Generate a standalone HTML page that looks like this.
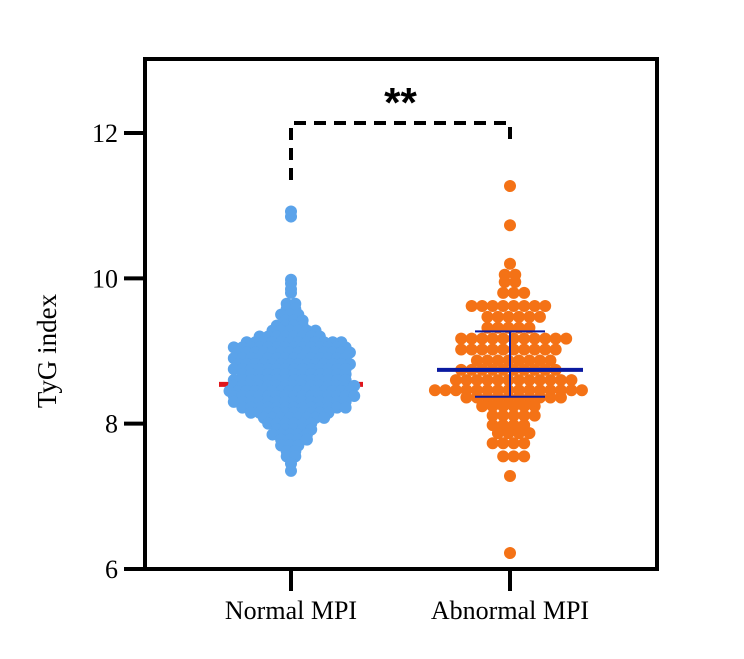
<!DOCTYPE html>
<html><head><meta charset="utf-8"><style>
html,body{margin:0;padding:0;background:#fff;}
svg{display:block;font-family:"Liberation Serif",serif;}
</style></head><body>
<svg id="chart" width="744" height="659" viewBox="0 0 744 659">
<rect x="0" y="0" width="744" height="659" fill="#fff"/>
<g id="under"></g>
<g id="marks"></g>
<g id="over"></g>
<g id="axes"></g>
</svg>
<script>
const categories = ["Normal MPI", "Abnormal MPI"];
const yTicks = [6, 8, 10, 12];
const normalValues = [
10.92,10.85,9.98,9.93,9.85,9.8,9.65,9.65,9.58,9.58,9.5,9.5,9.5,9.42,9.42,9.42,
9.35,9.35,9.35,9.35,9.28,9.28,9.28,9.28,9.28,9.28,
9.2,9.2,9.2,9.2,9.2,9.2,9.2,9.2,
9.12,9.12,9.12,9.12,9.12,9.12,9.12,9.12,9.12,9.12,9.12,9.12,
9.05,9.05,9.05,9.05,9.05,9.05,9.05,9.05,9.05,9.05,9.05,9.05,9.05,9.05,
8.98,8.98,8.98,8.98,8.98,8.98,8.98,8.98,8.98,8.98,8.98,8.98,8.98,8.98,
8.9,8.9,8.9,8.9,8.9,8.9,8.9,8.9,8.9,8.9,8.9,8.9,8.9,8.9,
8.82,8.82,8.82,8.82,8.82,8.82,8.82,8.82,8.82,8.82,8.82,8.82,8.82,8.82,
8.75,8.75,8.75,8.75,8.75,8.75,8.75,8.75,8.75,8.75,8.75,8.75,8.75,8.75,
8.68,8.68,8.68,8.68,8.68,8.68,8.68,8.68,8.68,8.68,8.68,8.68,8.68,
8.6,8.6,8.6,8.6,8.6,8.6,8.6,8.6,8.6,8.6,8.6,8.6,8.6,8.6,
8.52,8.52,8.52,8.52,8.52,8.52,8.52,8.52,8.52,8.52,8.52,8.52,8.52,8.52,8.52,
8.45,8.45,8.45,8.45,8.45,8.45,8.45,8.45,8.45,8.45,8.45,8.45,8.45,8.45,8.45,
8.38,8.38,8.38,8.38,8.38,8.38,8.38,8.38,8.38,8.38,8.38,8.38,8.38,8.38,8.38,
8.3,8.3,8.3,8.3,8.3,8.3,8.3,8.3,8.3,8.3,8.3,8.3,8.3,8.3,
8.22,8.22,8.22,8.22,8.22,8.22,8.22,8.22,8.22,8.22,8.22,8.22,8.22,
8.15,8.15,8.15,8.15,8.15,8.15,8.15,8.15,8.15,8.15,
8.08,8.08,8.08,8.08,8.08,8.08,8.08,8.08,
8.0,8.0,8.0,8.0,8.0,8.0,7.92,7.92,7.92,7.92,7.92,
7.85,7.85,7.85,7.85,7.85,7.78,7.78,7.78,7.78,7.7,7.7,7.7,
7.62,7.62,7.55,7.55,7.45,7.35
];
const abnormalValues = [
11.27,10.73,10.2,10.05,10.05,9.95,9.95,9.8,9.8,9.8,
9.62,9.62,9.62,9.62,9.62,9.62,9.62,9.62,
9.47,9.47,9.47,9.47,9.47,9.47,
9.32,9.32,9.32,9.32,9.32,
9.17,9.17,9.17,9.17,9.17,9.17,9.17,9.17,9.17,9.17,9.17,
9.02,9.02,9.02,9.02,9.02,9.02,9.02,9.02,9.02,9.02,
8.87,8.87,8.87,8.87,8.87,8.87,8.87,8.87,
8.74,8.74,8.74,8.74,8.74,8.74,8.74,8.74,8.74,8.74,
8.6,8.6,8.6,8.6,8.6,8.6,8.6,8.6,8.6,8.6,8.6,8.6,
8.46,8.46,8.46,8.46,8.46,8.46,8.46,8.46,8.46,8.46,8.46,8.46,8.46,8.46,8.46,
8.36,8.36,8.36,8.36,8.36,8.36,8.36,8.36,8.36,8.36,
8.24,8.24,8.24,8.24,8.24,8.24,8.11,8.11,8.11,8.11,8.11,
7.98,7.98,7.98,7.98,7.87,7.87,7.87,7.87,
7.73,7.73,7.73,7.73,7.55,7.55,7.55,7.28,6.22
];
const normalMean = [8.54];
const abnormalStats = [8.74, 9.27, 8.37]; // mean, upper, lower
const sigLabel = ["**"];

const NS = "http://www.w3.org/2000/svg";
const L = 145, R = 657, T = 59, B = 569;
function yScale(v){ return B - (v - 6) * (B - 133) / (12 - 6); }
function xScale(i){ return [291, 510][i]; }
function mk(tag, attrs, parent){
  const e = document.createElementNS(NS, tag);
  for (const k in attrs) e.setAttribute(k, attrs[k]);
  parent.appendChild(e);
  return e;
}
const under = document.getElementById('under');
const marks = document.getElementById('marks');
const over = document.getElementById('over');
const axes = document.getElementById('axes');

function drawSwarm(values, ci, color, step, r, name){
  const groups = {};
  const order = [];
  values.forEach(v => { if (!groups[v]) { groups[v] = []; order.push(v); } groups[v].push(v); });
  order.forEach((key, gi) => {
    const arr = groups[key];
    const n = arr.length;
    const shift = (gi % 2) ? step * 0.35 : -step * 0.15;
    arr.forEach((v, j) => {
      const off = (j - (n - 1) / 2) * step + (n > 2 ? shift : 0);
      const c = mk('circle', {cx: xScale(ci) + off, cy: yScale(v), r: r, fill: color}, marks);
      
      
    });
  });
}

const nm = mk('line', {x1: xScale(0) - 72, x2: xScale(0) + 72, y1: yScale(normalMean[0]), y2: yScale(normalMean[0]), stroke: '#e0161c', 'stroke-width': 5}, under);



drawSwarm(normalValues, 0, '#5ba3ea', 8.6, 6, 'normal-mpi-point');
drawSwarm(abnormalValues, 1, '#f47216', 10.5, 6, 'abnormal-mpi-point');

const ax = xScale(1);
const am = mk('line', {x1: ax - 73, x2: ax + 73, y1: yScale(abnormalStats[0]), y2: yScale(abnormalStats[0]), stroke: '#0a1aa0', 'stroke-width': 4}, over);


const ev = mk('line', {x1: ax, x2: ax, y1: yScale(abnormalStats[1]), y2: yScale(abnormalStats[2]), stroke: '#0a1aa0', 'stroke-width': 2}, over);


[abnormalStats[1], abnormalStats[2]].forEach(v => {
  const cap = mk('line', {x1: ax - 35, x2: ax + 35, y1: yScale(v), y2: yScale(v), stroke: '#0a1aa0', 'stroke-width': 2}, over);
  
  
});

const fr = mk('rect', {x: L, y: T, width: R - L, height: B - T, fill: 'none', stroke: '#000', 'stroke-width': 4}, axes);


yTicks.forEach(t => {
  const tk = mk('line', {x1: 124, x2: L, y1: yScale(t), y2: yScale(t), stroke: '#000', 'stroke-width': 4}, axes);
  
  
  const lb = mk('text', {x: 118, y: yScale(t) + 9, 'text-anchor': 'end', 'font-size': 26, fill: '#000'}, axes);
  lb.textContent = t;
  
  
});
categories.forEach((c, i) => {
  const tk = mk('line', {x1: xScale(i), x2: xScale(i), y1: B, y2: B + 22, stroke: '#000', 'stroke-width': 4}, axes);
  
  
  const lb = mk('text', {x: xScale(i), y: 619, 'text-anchor': 'middle', 'font-size': 26, fill: '#000'}, axes);
  lb.textContent = c;
  
  
});
const yt = mk('text', {x: 0, y: 0, 'text-anchor': 'middle', 'font-size': 27, fill: '#000', transform: 'translate(56,351) rotate(-90)'}, axes);
yt.textContent = 'TyG index';


const br = mk('path', {d: `M${xScale(0)},180 V123 H${xScale(1)} V142`, fill: 'none', stroke: '#000', 'stroke-width': 4, 'stroke-dasharray': '12,8'}, axes);


const st = mk('text', {x: (xScale(0) + xScale(1)) / 2, y: 117, 'text-anchor': 'middle', 'font-size': 42, 'font-weight': 'bold', fill: '#000', 'font-family': '"Liberation Sans",sans-serif'}, axes);
st.textContent = sigLabel[0];


</script>
</body></html>
